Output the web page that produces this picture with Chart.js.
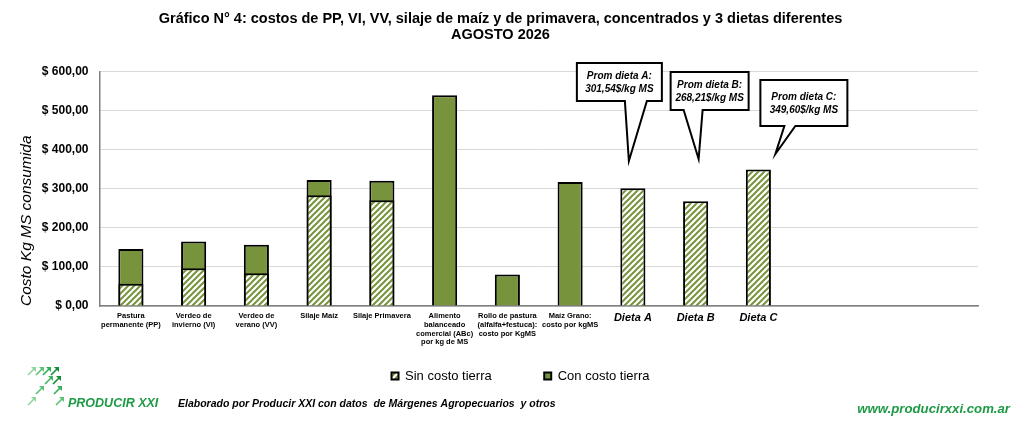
<!DOCTYPE html>
<html lang="es">
<head>
  <meta charset="UTF-8">
  <script src="https://cdn.jsdelivr.net/npm/chart.js"></script>
  <title>Gráfico N° 4</title>
  <style>
    body { margin: 0; padding: 0; background: #fff; }
    #wrap { width: 1024px; height: 425px; position: relative; }
  </style>
</head>
<body>
<div id="wrap"><canvas id="chart" width="1024" height="425"></canvas></div>

<script>
  // categories (multi-line labels as in the original sheet)
  const categories = [
    ['Pastura', 'permanente (PP)'],
    ['Verdeo de', 'invierno (VI)'],
    ['Verdeo de', 'verano (VV)'],
    'Silaje Maíz',
    'Silaje Primavera',
    ['Alimento', 'balanceado', 'comercial (ABc)', 'por kg de MS'],
    ['Rollo de pastura', '(alfalfa+festuca):', 'costo por KgMS'],
    ['Maíz Grano:', 'costo por kgMS'],
    'Dieta A',
    'Dieta B',
    'Dieta C',
    '', '', ''
  ];

  // $/kg MS
  const sinCostoTierra = [57, 97, 84, 284, 271, null, null, null, 301.54, 268.21, 349.60, null, null, null];
  const conCostoTierra = [146, 165, 157, 323, 321, 540, 81, 318, null, null, null, null, null, null];

  const dietas = ['A', 'B', 'C'];
  const dietaIndex = [8, 9, 10];

  const GREEN = '#77933c';
  const LOGO_GREEN = '#1e9a45';
  const FONT = '"Liberation Sans", Arial, sans-serif';

  // diagonal hatch for "sin costo tierra"
  function makeHatch() {
    const p = document.createElement('canvas');
    p.width = 6; p.height = 6;
    const c = p.getContext('2d');
    c.fillStyle = '#fff';
    c.fillRect(0, 0, 6, 6);
    c.strokeStyle = GREEN;
    c.lineWidth = 2;
    c.beginPath();
    c.moveTo(0, 6); c.lineTo(6, 0);
    c.moveTo(-3, 3); c.lineTo(3, -3);
    c.moveTo(3, 9); c.lineTo(9, 3);
    c.stroke();
    return document.getElementById('chart').getContext('2d').createPattern(p, 'repeat');
  }
  const hatch = makeHatch();

  function fmt(v) {
    return v.toFixed(2).replace('.', ',');
  }

  // speech bubbles over the diet bars (offsets from bar centre, px)
  const bubbles = [
    { left: -56, right: 29, top: 63, bottom: 101, baseL: -8, baseR: 14, tipX: -4, tipY: 161 },
    { left: -25, right: 53, top: 72, bottom: 110, baseL: -12, baseR: 7, tipX: 3, tipY: 159 },
    { left: 2, right: 89, top: 80, bottom: 126, baseL: 26, baseR: 37, tipX: 17, tipY: 154 }
  ];

  const calloutPlugin = {
    id: 'callouts',
    afterDatasetsDraw(chart) {
      const ctx = chart.ctx;
      const xs = chart.scales.x;
      ctx.save();
      bubbles.forEach((b, i) => {
        const cx = xs.getPixelForValue(dietaIndex[i]);
        ctx.beginPath();
        ctx.moveTo(cx + b.left, b.top);
        ctx.lineTo(cx + b.right, b.top);
        ctx.lineTo(cx + b.right, b.bottom);
        ctx.lineTo(cx + b.baseR, b.bottom);
        ctx.lineTo(cx + b.tipX, b.tipY);
        ctx.lineTo(cx + b.baseL, b.bottom);
        ctx.lineTo(cx + b.left, b.bottom);
        ctx.closePath();
        ctx.fillStyle = '#fff';
        ctx.fill();
        ctx.lineWidth = 2;
        ctx.strokeStyle = '#000';
        ctx.stroke();

        const mx = cx + (b.left + b.right) / 2;
        const my = (b.top + b.bottom) / 2;
        ctx.fillStyle = '#000';
        ctx.font = 'italic bold 10px ' + FONT;
        ctx.textAlign = 'center';
        ctx.textBaseline = 'middle';
        ctx.fillText('Prom dieta ' + dietas[i] + ':', mx, my - 6);
        ctx.fillText(fmt(sinCostoTierra[dietaIndex[i]]) + '$/kg MS', mx, my + 7);
      });
      ctx.restore();
    }
  };

  // the legend sits right under the tick labels, centred like the sheet
  const legendPlace = {
    id: 'legendPlace',
    afterLayout(chart) {
      const lg = chart.legend;
      lg.top = chart.chartArea.bottom + 11;
      lg.bottom = lg.top + lg.options.labels.padding + 30;
      lg.left += 22;
      lg.right += 22;
      const t = chart.titleBlock;
      t.left += 2;
      t.right += 2;
    }
  };

  function arrow(ctx, x, y, s, color) {
    ctx.strokeStyle = color;
    ctx.fillStyle = color;
    ctx.lineWidth = 1.6;
    ctx.beginPath();
    ctx.moveTo(x, y + s);
    ctx.lineTo(x + s - 1, y + 1);
    ctx.stroke();
    ctx.beginPath();
    ctx.moveTo(x + s, y);
    ctx.lineTo(x + s - 5, y);
    ctx.lineTo(x + s, y + 5);
    ctx.closePath();
    ctx.fill();
  }

  const footerPlugin = {
    id: 'footer',
    afterDraw(chart) {
      const ctx = chart.ctx;
      ctx.save();
      // logo
      const cells = [
        [28, 367, '#8fd69d'], [36, 367, '#5cc273'], [43, 367, '#2fae52'], [51, 367, '#128a38'],
        [45, 376, '#3fb55e'], [53, 376, '#128a38'],
        [36, 386, '#5cc273'], [54, 386, '#2fae52'],
        [28, 397, '#8fd69d'], [56, 397, '#5cc273']
      ];
      cells.forEach(c => arrow(ctx, c[0], c[1], 8, c[2]));

      ctx.textBaseline = 'alphabetic';
      ctx.textAlign = 'left';
      ctx.fillStyle = LOGO_GREEN;
      ctx.font = 'italic bold 12.5px ' + FONT;
      ctx.fillText('PRODUCIR XXI', 68, 407);

      ctx.fillStyle = '#000';
      ctx.font = 'italic bold 10.5px ' + FONT;
      ctx.fillText('Elaborado por Producir XXI con datos  de Márgenes Agropecuarios  y otros', 178, 407);

      ctx.fillStyle = LOGO_GREEN;
      ctx.font = 'italic bold 13.2px ' + FONT;
      ctx.textAlign = 'right';
      ctx.fillText('www.producirxxi.com.ar', 1010, 413);
      ctx.restore();
    }
  };

  new Chart(document.getElementById('chart'), {
    type: 'bar',
    data: {
      labels: categories,
      datasets: [
        {
          label: 'Sin costo tierra',
          data: sinCostoTierra,
          backgroundColor: hatch,
          borderColor: '#000',
          borderWidth: 2,
          barPercentage: 0.4,
          categoryPercentage: 1
        },
        {
          label: 'Con costo tierra',
          data: conCostoTierra,
          backgroundColor: GREEN,
          borderColor: '#000',
          borderWidth: 2,
          barPercentage: 0.4,
          categoryPercentage: 1
        }
      ]
    },
    options: {
      responsive: false,
      animation: false,
      devicePixelRatio: 1,
      layout: { padding: { left: 19, right: 46, top: 11, bottom: 55 } },
      plugins: {
        title: {
          display: true,
          text: [
            'Gráfico N° 4: costos de PP, VI, VV, silaje de maíz y de primavera, concentrados y 3 dietas diferentes',
            'AGOSTO 2026'
          ],
          color: '#000',
          font: { family: FONT, size: 14.5, weight: 'bold', lineHeight: 1.1 },
          padding: { top: 0, bottom: 29 }
        },
        legend: {
          position: 'bottom',
          maxHeight: 20,
          labels: {
            color: '#000',
            boxWidth: 7,
            boxHeight: 7,
            padding: 52.5,
            font: { family: FONT, size: 13 }
          }
        },
        tooltip: { enabled: false }
      },
      scales: {
        x: {
          stacked: true,
          grid: { display: false, drawTicks: false },
          border: { color: '#7f7f7f', width: 1.5 },
          afterFit: (scale) => { scale.height = 44; },
          ticks: {
            autoSkip: false,
            maxRotation: 0,
            padding: 6,
            color: '#000',
            font: (c) => (c.index >= 8 && c.index <= 10)
              ? { family: FONT, size: 11, style: 'italic', weight: 'bold', lineHeight: 1.1 }
              : { family: FONT, size: 7.5, weight: 'bold', lineHeight: 1.15 }
          }
        },
        y: {
          stacked: false,
          min: 0,
          max: 600,
          afterFit: (scale) => { scale.width = 80.5; },
          grid: { color: '#d9d9d9', drawTicks: false },
          border: { color: '#7f7f7f', width: 1.5 },
          ticks: {
            stepSize: 100,
            padding: 11,
            color: '#000',
            font: { family: FONT, size: 12, weight: 'bold' },
            callback: (v) => '$ ' + fmt(v)
          },
          title: {
            display: true,
            text: 'Costo Kg MS consumida',
            align: 'start',
            color: '#000',
            font: { family: FONT, size: 15.5, style: 'italic', lineHeight: 1 },
            padding: 0
          }
        }
      }
    },
    plugins: [calloutPlugin, legendPlace, footerPlugin]
  });
</script>
</body>
</html>
